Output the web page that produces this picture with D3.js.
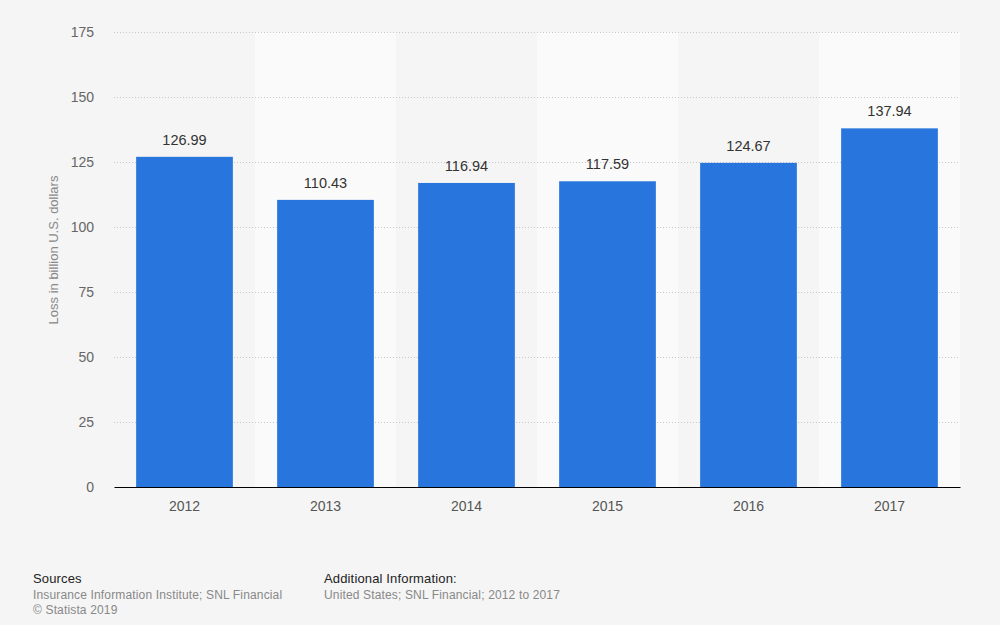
<!DOCTYPE html>
<html><head><meta charset="utf-8">
<script src="https://cdn.jsdelivr.net/npm/d3@7"></script>
<style>
html,body{margin:0;padding:0;background:#f5f5f5;}
svg{display:block;font-family:"Liberation Sans",Arial,Helvetica,sans-serif;}
</style></head>
<body>
<svg id="chart" width="1000" height="625"></svg>
<script>
const years = ["2012","2013","2014","2015","2016","2017"];
const losses = [126.99, 110.43, 116.94, 117.59, 124.67, 137.94];
const yTicks = [0, 25, 50, 75, 100, 125, 150, 175];

(function(){
const svg = d3.select("#chart");
svg.append("rect").attr("width",1000).attr("height",625).attr("fill","#f5f5f5");

const mL = 114, mR = 960, mT = 32, mB = 487;
const x = d3.scaleBand().domain(years).range([mL, mR]).padding(0);
const y = d3.scaleLinear().domain([0, 175]).range([mB, mT]);

// alternating band backgrounds
svg.append("g").selectAll("rect").data(years.filter((d,i)=>i%2===1)).join("rect")
  .attr("x", d => x(d)).attr("y", mT).attr("width", x.bandwidth()).attr("height", mB - mT)
  .attr("fill", "#fafafa");

// gridlines + y ticks
const yAxis = d3.axisLeft(y).tickValues(yTicks).tickSize(0).tickPadding(0);
const gy = svg.append("g").attr("transform", `translate(${mL},0)`).call(yAxis);
gy.select(".domain").remove();
gy.selectAll(".tick text").attr("x", -20).attr("fill","#666").style("font-size","14px")
  .style("font-family","'Liberation Sans',Arial,sans-serif");
gy.selectAll(".tick").filter(d => d !== 0).append("line")
  .attr("x1", 0).attr("x2", mR - mL)
  .attr("stroke", "#c8c8c8").attr("stroke-dasharray", "1,2");

// bars
const barW = x.bandwidth() * 0.686;
svg.append("g").selectAll("rect").data(years).join("rect")
  .attr("x", d => x(d) + (x.bandwidth() - barW) / 2)
  .attr("y", (d,i) => y(losses[i]))
  .attr("width", barW)
  .attr("height", (d,i) => y(0) - y(losses[i]))
  .attr("fill", "#2876dd");

// value labels
svg.append("g").selectAll("text").data(years).join("text")
  .attr("x", d => x(d) + x.bandwidth() / 2)
  .attr("y", (d,i) => y(losses[i]) - 12)
  .attr("text-anchor", "middle").attr("fill", "#333").style("font-size", "14.5px")
  .text((d,i) => losses[i].toFixed(2));

// x axis
const xAxis = d3.axisBottom(x).tickSize(0).tickPadding(14);
const gx = svg.append("g").attr("transform", `translate(0,${mB})`).call(xAxis);
gx.select(".domain").attr("stroke", "#000");
gx.selectAll(".tick text").attr("fill","#555").style("font-size","14px")
  .style("font-family","'Liberation Sans',Arial,sans-serif");

// y axis title
svg.append("text")
  .attr("transform", `translate(58,250) rotate(-90)`)
  .attr("text-anchor", "middle").attr("fill", "#888").style("font-size", "13px")
  .text("Loss in billion U.S. dollars");

// footer
const foot = svg.append("g").style("letter-spacing", "0.15px");
foot.append("text").attr("x", 33).attr("y", 583).attr("fill", "#222").style("font-size", "13px").text("Sources");
foot.append("text").attr("x", 33).attr("y", 599).attr("fill", "#888").style("font-size", "12px").text("Insurance Information Institute; SNL Financial");
foot.append("text").attr("x", 33).attr("y", 614).attr("fill", "#888").style("font-size", "12px").text("© Statista 2019");
foot.append("text").attr("x", 324).attr("y", 583).attr("fill", "#222").style("font-size", "13px").text("Additional Information:");
foot.append("text").attr("x", 324).attr("y", 599).attr("fill", "#888").style("font-size", "12px").text("United States; SNL Financial; 2012 to 2017");
})();
</script>
</body></html>
